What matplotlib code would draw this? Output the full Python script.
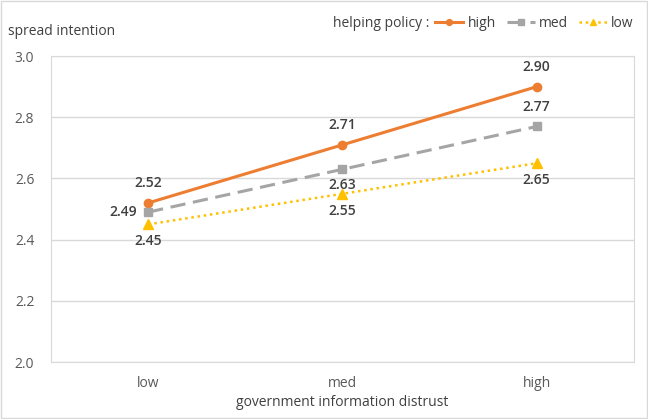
import matplotlib.pyplot as plt
import numpy as np

plt.rcParams['font.family'] = ['Open Sans', 'DejaVu Sans']

categories = ['low', 'med', 'high']
high = [2.52, 2.71, 2.90]
med = [2.49, 2.63, 2.77]
low = [2.45, 2.55, 2.65]

x = np.arange(len(categories))

fig = plt.figure(figsize=(6.48, 4.19), dpi=100)
ax = fig.add_axes([0.0787, 0.136, 0.8993, 0.730])

l1, = ax.plot(x, high, color='#ED7D31', lw=2.2, marker='o', ms=6, label='high')
l2, = ax.plot(x, med, color='#A5A5A5', lw=2.2, ls=(0, (5, 2.5)), marker='s', ms=6, label='med')
l3, = ax.plot(x, low, color='#FFC000', lw=1.8, ls=(0, (1, 1.5)), marker='^', ms=7, label='low')

lab = dict(fontsize=10, fontweight='semibold', color='#404040')
for i, v in enumerate(high):
    ax.annotate(f'{v:.2f}', (x[i], v), xytext=(0, 9), textcoords='offset points', ha='center', va='bottom', **lab)
offs_med = [(-8, 0, 'right', 'center'), (0, -6, 'center', 'top'), (0, 9, 'center', 'bottom')]
for i, v in enumerate(med):
    dx, dy, ha, va = offs_med[i]
    ax.annotate(f'{v:.2f}', (x[i], v), xytext=(dx, dy), textcoords='offset points', ha=ha, va=va, **lab)
for i, v in enumerate(low):
    ax.annotate(f'{v:.2f}', (x[i], v), xytext=(0, -7), textcoords='offset points', ha='center', va='top', **lab)

ax.set_xlim(-0.5, 2.5)
ax.set_ylim(2.0, 3.0)
ax.set_yticks(np.arange(2.0, 3.01, 0.2))
ax.set_yticklabels([f'{t:.1f}' for t in np.arange(2.0, 3.01, 0.2)])
ax.set_xticks(x)
ax.set_xticklabels(categories)
ax.tick_params(length=0, labelsize=10, colors='#595959', pad=10)
ax.tick_params(axis='y', pad=12)
ax.grid(axis='y', color='#D9D9D9', lw=1)
ax.set_axisbelow(True)
for s in ax.spines.values():
    s.set_color('#D9D9D9')

ax.set_xlabel('government information distrust', fontsize=10, color='#404040', labelpad=3)
fig.text(0.012, 0.925, 'spread intention', fontsize=10, color='#404040', ha='left', va='center')

fig.text(0.662, 0.945, 'helping policy :', fontsize=10, color='#404040', ha='right', va='center')
leg = fig.legend(handles=[l1, l2, l3], loc='center left', bbox_to_anchor=(0.672, 0.945),
                 ncol=3, frameon=False, fontsize=10, handlelength=2.0, columnspacing=0.8,
                 handletextpad=0.3, markerscale=0.7, borderaxespad=0, borderpad=0)
for t in leg.get_texts():
    t.set_color('#404040')

fig.patches.append(plt.Rectangle((0.002, 0.002), 0.996, 0.996, transform=fig.transFigure,
                                 fill=False, edgecolor='#D9D9D9', lw=1))

fig.savefig('out.png', dpi=100)
